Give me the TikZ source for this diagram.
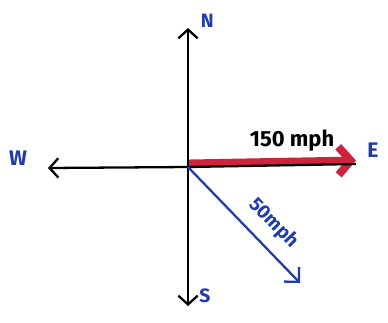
\documentclass[tikz,border=0pt]{standalone}
\usepackage{fontspec}
\setsansfont{Fira Sans}
\usetikzlibrary{arrows.meta}
\definecolor{penblue}{RGB}{35,60,170}
\definecolor{penred}{RGB}{205,35,60}
\tikzset{
  axis/.style={line width=1.3pt,-{Straight Barb[length=5pt,width=11pt]}},
  lbl/.style={text=penblue,font=\sffamily\bfseries},
}

\begin{document}
\begin{tikzpicture}[x=0.02cm,y=-0.02cm]
          \useasboundingbox (0,0) rectangle (388,322);
          %\draw[very thin,lightgray] (0,0) grid[step=20] (388,322);
          \coordinate (O) at (188,167);
          \coordinate (n) at (188,28);
          \coordinate (s) at (188,306);
          \coordinate (w) at (48,168);
          \coordinate (e) at (356,164);
          \coordinate (v) at (300,283);
          \node[lbl,anchor=south west,scale=1.1] (N) at (194,34) {N};
          \node[lbl,scale=1.1] (S) at (205,296) {S};
          \node[lbl,scale=1.2] (W) at (18,158) {W};
          \node[lbl,scale=1.2] (E) at (373,150) {E};
          % wind, red band on the east axis
          \draw[penred,line width=4.5pt,-{Straight Barb[length=7pt,width=16pt]}] ([yshift=2pt]O)--([yshift=2pt]e);
          \draw[axis] (O)--(n);
          \draw[axis] (O)--(s);
          \draw[axis] (O)--(w);
          \draw[line width=1.3pt] (O)--(e);
          \node[font=\sffamily\bfseries,scale=1.25] (wind) at (292,141) {150 mph};
          % plane, blue arrow
          \draw[penblue,line width=1.3pt,-{Straight Barb[length=6pt,width=12pt]}] (O)--(v)
            node[lbl,pos=0.62,above=3pt,sloped,scale=1.1] (plane) {50mph};
        \end{tikzpicture}
\end{document}
